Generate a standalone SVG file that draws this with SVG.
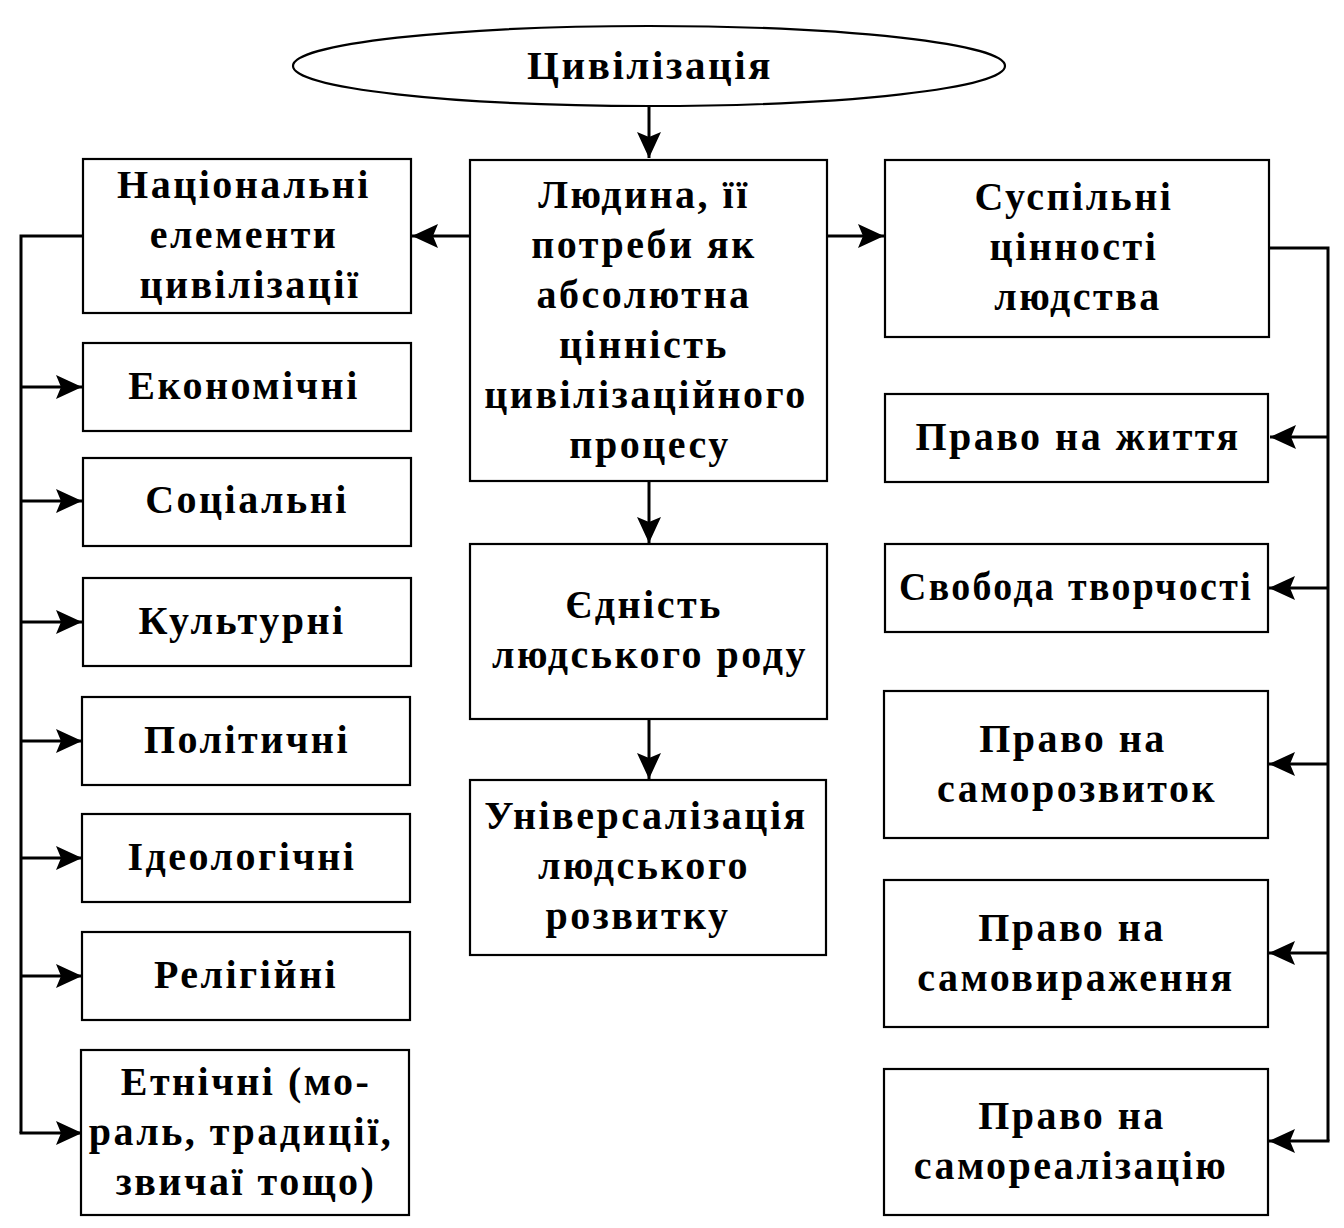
<svg xmlns="http://www.w3.org/2000/svg" width="1344" height="1228" viewBox="0 0 1344 1228">
<style>
.box{fill:#fff;stroke:#000;stroke-width:2.2}
.t{font-family:"Liberation Serif","Times New Roman",serif;font-weight:bold;font-size:40px;text-anchor:middle;fill:#000;letter-spacing:2.5px}
.c{fill:none;stroke:#000;stroke-width:3}
</style>
<defs>
<marker id="ah" markerUnits="userSpaceOnUse" markerWidth="28" markerHeight="26" refX="26" refY="13" orient="auto">
<path d="M0,1 L26,13 L0,25 L5,13 Z" fill="#000"/>
</marker>
</defs>
<rect width="1344" height="1228" fill="#fff"/>
<g id="connectors">
<line class="c" x1="649" y1="106" x2="649" y2="158" marker-end="url(#ah)"/>
<line class="c" x1="470" y1="236" x2="412" y2="236" marker-end="url(#ah)"/>
<line class="c" x1="827" y1="236" x2="884" y2="236" marker-end="url(#ah)"/>
<line class="c" x1="649" y1="481" x2="649" y2="543" marker-end="url(#ah)"/>
<line class="c" x1="649" y1="719" x2="649" y2="779" marker-end="url(#ah)"/>
<polyline class="c" points="83,236 21,236 21,1133"/>
<line class="c" x1="21" y1="387" x2="82" y2="387" marker-end="url(#ah)"/>
<line class="c" x1="21" y1="501" x2="82" y2="501" marker-end="url(#ah)"/>
<line class="c" x1="21" y1="622" x2="82" y2="622" marker-end="url(#ah)"/>
<line class="c" x1="21" y1="741" x2="82" y2="741" marker-end="url(#ah)"/>
<line class="c" x1="21" y1="858" x2="82" y2="858" marker-end="url(#ah)"/>
<line class="c" x1="21" y1="976" x2="82" y2="976" marker-end="url(#ah)"/>
<line class="c" x1="19.5" y1="1133" x2="82" y2="1133" marker-end="url(#ah)"/>
<polyline class="c" points="1269,248 1328,248 1328,1141"/>
<line class="c" x1="1328" y1="437" x2="1270" y2="437" marker-end="url(#ah)"/>
<line class="c" x1="1328" y1="588" x2="1269" y2="588" marker-end="url(#ah)"/>
<line class="c" x1="1328" y1="764" x2="1269" y2="764" marker-end="url(#ah)"/>
<line class="c" x1="1328" y1="953" x2="1269" y2="953" marker-end="url(#ah)"/>
<line class="c" x1="1329.5" y1="1141" x2="1269" y2="1141" marker-end="url(#ah)"/>
</g>
<g id="n-civ">
<ellipse class="box" cx="649" cy="66" rx="356" ry="40"/>
<text class="t" x="650" y="79" font-size="40" letter-spacing="0" textLength="246" lengthAdjust="spacingAndGlyphs">Цивілізація</text>
</g>
<g id="n-nat">
<rect class="box" x="83" y="159" width="328" height="154"/>
<text class="t" x="244" y="198">Національні</text>
<text class="t" x="244" y="248">елементи</text>
<text class="t" x="250" y="298">цивілізації</text>
</g>
<g id="n-econ"><rect class="box" x="83" y="343" width="328" height="88"/><text class="t" x="244" y="399">Економічні</text></g>
<g id="n-soc"><rect class="box" x="83" y="458" width="328" height="88"/><text class="t" x="247" y="513">Соціальні</text></g>
<g id="n-cult"><rect class="box" x="83" y="578" width="328" height="88"/><text class="t" x="242" y="634">Культурні</text></g>
<g id="n-pol"><rect class="box" x="82" y="697" width="328" height="88"/><text class="t" x="247" y="753">Політичні</text></g>
<g id="n-ideo"><rect class="box" x="82" y="814" width="328" height="88"/><text class="t" x="242" y="870">Ідеологічні</text></g>
<g id="n-rel"><rect class="box" x="82" y="932" width="328" height="88"/><text class="t" x="246" y="988">Релігійні</text></g>
<g id="n-eth">
<rect class="box" x="81" y="1050" width="328" height="165"/>
<text class="t" x="246" y="1095">Етнічні (мо-</text>
<text class="t" x="241" y="1145">раль, традиції,</text>
<text class="t" x="246" y="1195">звичаї тощо)</text>
</g>
<g id="n-man">
<rect class="box" x="470" y="160" width="357" height="321"/>
<text class="t" x="644" y="208">Людина, її</text>
<text class="t" x="644" y="258">потреби як</text>
<text class="t" x="644" y="308">абсолютна</text>
<text class="t" x="644" y="358">цінність</text>
<text class="t" x="646" y="408">цивілізаційного</text>
<text class="t" x="650" y="458">процесу</text>
</g>
<g id="n-unity">
<rect class="box" x="470" y="544" width="357" height="175"/>
<text class="t" x="644" y="618">Єдність</text>
<text class="t" x="650" y="668">людського роду</text>
</g>
<g id="n-univ">
<rect class="box" x="470" y="780" width="356" height="175"/>
<text class="t" x="646" y="829">Універсалізація</text>
<text class="t" x="644" y="879">людського</text>
<text class="t" x="638" y="929">розвитку</text>
</g>
<g id="n-soc-val">
<rect class="box" x="885" y="160" width="384" height="177"/>
<text class="t" x="1074" y="210">Суспільні</text>
<text class="t" x="1074" y="260">цінності</text>
<text class="t" x="1078" y="310">людства</text>
</g>
<g id="n-life"><rect class="box" x="885" y="394" width="383" height="88"/><text class="t" x="1078" y="450">Право на життя</text></g>
<g id="n-free"><rect class="box" x="885" y="544" width="383" height="88"/><text class="t" x="1076" y="600" textLength="354" lengthAdjust="spacingAndGlyphs">Свобода творчості</text></g>
<g id="n-dev">
<rect class="box" x="884" y="691" width="384" height="147"/>
<text class="t" x="1073" y="752">Право на</text>
<text class="t" x="1077" y="802">саморозвиток</text>
</g>
<g id="n-expr">
<rect class="box" x="884" y="880" width="384" height="147"/>
<text class="t" x="1072" y="941">Право на</text>
<text class="t" x="1076" y="991">самовираження</text>
</g>
<g id="n-real">
<rect class="box" x="884" y="1069" width="384" height="146"/>
<text class="t" x="1072" y="1129">Право на</text>
<text class="t" x="1071" y="1179">самореалізацію</text>
</g>
</svg>
